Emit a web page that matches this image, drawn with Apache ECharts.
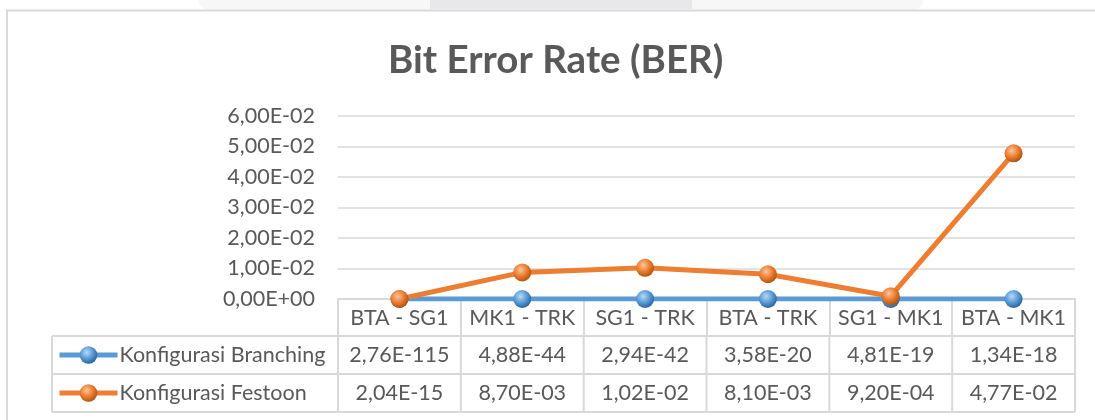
<!DOCTYPE html>
<html>
<head>
<meta charset="utf-8">
<script src="https://cdn.jsdelivr.net/npm/echarts@6/dist/echarts.min.js"></script>
<style>
html, body { margin: 0; padding: 0; background: #fff; }
#chart { width: 1095px; height: 420px; }
</style>
</head>
<body>
<div id="chart"></div>
<script>
var categories = ['BTA - SG1', 'MK1 - TRK', 'SG1 - TRK', 'BTA - TRK', 'SG1 - MK1', 'BTA - MK1'];
var seriesNames = ['Konfigurasi Branching', 'Konfigurasi Festoon'];
var branching = [2.76e-115, 4.88e-44, 2.94e-42, 3.58e-20, 4.81e-19, 1.34e-18];
var festoon = [2.04e-15, 8.70e-3, 1.02e-2, 8.10e-3, 9.20e-4, 4.77e-2];
var yMin = 0, yMax = 0.06, yStep = 0.01;

var FONT = 'Lato';
var FS = 21.5;
var TXT = '#595959';
var GRIDC = '#d9d9d9';

// excel style: 6,00E-02
function sci(v) {
	var p = Number(v).toExponential(2).split('e');
	var sign = p[1].charAt(0);
	var d = p[1].slice(1);
	if (d.length < 2) d = '0' + d;
	return p[0].replace('.', ',') + 'E' + sign + d;
}

function ball(light, base, dark) {
	return new echarts.graphic.RadialGradient(0.4, 0.35, 0.65, [
		{ offset: 0, color: light },
		{ offset: 0.55, color: base },
		{ offset: 1, color: dark }
	]);
}

var myChart = echarts.init(document.getElementById('chart'));

myChart.setOption({
	animation: false,
	title: {
		text: 'Bit Error Rate (BER)',
		left: 388,
		top: 41,
		padding: 0,
		textStyle: { fontFamily: FONT, fontSize: 38.5, fontWeight: 'bold', color: TXT }
	},
	legend: {
		orient: 'vertical',
		left: 57,
		top: 344,
		padding: 0,
		itemWidth: 58,
		itemHeight: 22,
		itemGap: 16,
		lineStyle: { width: 5 },
		textStyle: { fontFamily: FONT, fontSize: FS, color: TXT, lineHeight: 22, padding: [0, 0, 0, -3] },
		data: seriesNames
	},
	grid: { left: 338, right: 20, top: 115.7, bottom: 121 },
	xAxis: {
		type: 'category',
		data: categories,
		axisLine: { lineStyle: { color: GRIDC, width: 2 } },
		axisTick: { show: true, length: 37, lineStyle: { color: GRIDC, width: 2 } },
		axisLabel: { interval: 0, fontFamily: FONT, fontSize: FS, color: TXT, margin: 8 }
	},
	yAxis: {
		type: 'value',
		min: yMin,
		max: yMax,
		interval: yStep,
		axisLine: { show: false },
		axisTick: { show: false },
		splitLine: { lineStyle: { color: GRIDC, width: 1.5 } },
		axisLabel: { fontFamily: FONT, fontSize: FS, color: TXT, margin: 23, formatter: sci }
	},
	series: [{
		name: seriesNames[0],
		type: 'line',
		data: branching,
		symbol: 'circle',
		symbolSize: 18,
		lineStyle: { color: '#5b9bd5', width: 5 },
		itemStyle: { color: ball('#b5dbf7', '#5b9bd5', '#2c64a0') }
	}, {
		name: seriesNames[1],
		type: 'line',
		data: festoon,
		symbol: 'circle',
		symbolSize: 18,
		lineStyle: { color: '#ed7d31', width: 5 },
		itemStyle: { color: ball('#fbc79e', '#ed7d31', '#b2550f') }
	}]
});

// data table under the axis
function drawTable() {
	var xs = categories.map(function (c) { return myChart.convertToPixel({ xAxisIndex: 0 }, c); });
	var w = xs[1] - xs[0];
	var left = 52;
	var rowTop = myChart.convertToPixel({ yAxisIndex: 0 }, 0) + 37;
	var rowH = 38;
	var right = xs[xs.length - 1] + w / 2;
	var els = [];

	// page bits above the chart box
	els.push({ type: 'rect', silent: true, shape: { x: 199, y: -12, width: 724, height: 21, r: 8 }, style: { fill: '#f7f7f7' } });
	els.push({ type: 'rect', silent: true, shape: { x: 430, y: -2, width: 262, height: 11 }, style: { fill: '#e8e8ea' } });
	// chart box
	els.push({ type: 'rect', silent: true, shape: { x: 7, y: 10.5, width: 1200, height: 500 }, style: { fill: 'none', stroke: GRIDC, lineWidth: 2 } });

	var lineSt = { stroke: GRIDC, lineWidth: 2 };
	for (var r = 0; r <= seriesNames.length; r++) {
		var y = rowTop + r * rowH;
		els.push({ type: 'line', silent: true, shape: { x1: left, y1: y, x2: right, y2: y }, style: lineSt });
	}
	var bottom = rowTop + seriesNames.length * rowH;
	els.push({ type: 'line', silent: true, shape: { x1: left, y1: rowTop, x2: left, y2: bottom }, style: lineSt });
	for (var i = 0; i <= xs.length; i++) {
		var bx = xs[0] - w / 2 + i * w;
		els.push({ type: 'line', silent: true, shape: { x1: bx, y1: rowTop, x2: bx, y2: bottom }, style: lineSt });
	}

	var rows = [branching, festoon];
	rows.forEach(function (vals, ri) {
		vals.forEach(function (v, ci) {
			els.push({
				type: 'text', silent: true,
				x: xs[ci], y: rowTop + ri * rowH + rowH / 2,
				style: { text: sci(v), fontFamily: FONT, fontSize: FS, fill: TXT, align: 'center', verticalAlign: 'middle' }
			});
		});
	});

	myChart.setOption({ graphic: els });
}
drawTable();
</script>
</body>
</html>
